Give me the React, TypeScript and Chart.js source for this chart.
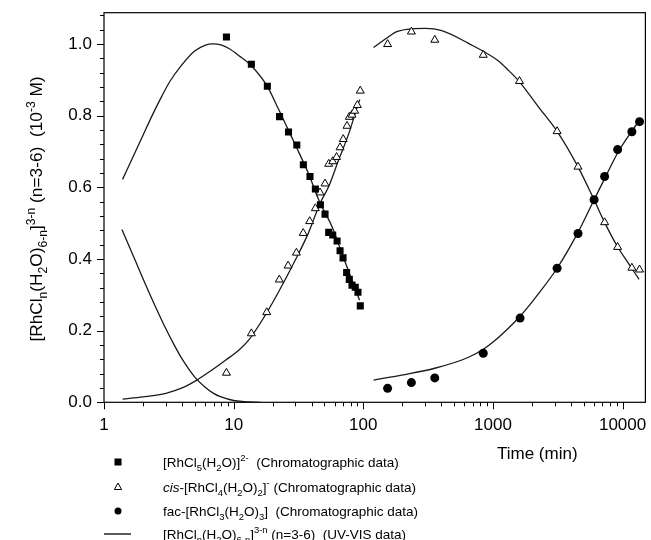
import { useEffect, useRef } from "react";
import { Chart, registerables } from "chart.js";
Chart.register(...registerables);

const FAMILY = '"Liberation Sans", Arial, Helvetica, sans-serif';

// Chromatographic data: [RhCl5(H2O)]2- (squares)
const SQ_T = [8.8, 13.7, 18.2, 22.6, 26.5, 30.7, 34.5, 38.8, 42.7, 46.7, 50.7, 54.1, 58.1, 62.8, 66.2, 69.8, 74.4, 78.0, 81.8, 86.7, 91.0, 94.8];
const SQ_Y = [1.019, 0.943, 0.882, 0.797, 0.754, 0.718, 0.663, 0.630, 0.595, 0.551, 0.525, 0.474, 0.467, 0.450, 0.423, 0.403, 0.362, 0.343, 0.327, 0.321, 0.307, 0.269];

// cis-[RhCl4(H2O)2]- (triangles), early and late runs
const TRI1_T = [8.8, 13.7, 18.0, 22.5, 26.3, 30.5, 34.4, 38.6, 42.7, 46.4, 50.7, 54.1, 58.1, 62.2, 66.2, 70.0, 74.9, 78.0, 81.8, 85.8, 90.0, 94.8];
const TRI1_Y = [0.082, 0.192, 0.251, 0.342, 0.381, 0.417, 0.472, 0.505, 0.541, 0.585, 0.610, 0.665, 0.672, 0.684, 0.711, 0.734, 0.771, 0.796, 0.802, 0.813, 0.829, 0.869];
const TRI2_T = [154, 235, 356, 842, 1603, 3126, 4532, 7270, 9160, 11800, 13520];
const TRI2_Y = [0.999, 1.034, 1.011, 0.969, 0.896, 0.756, 0.657, 0.502, 0.433, 0.375, 0.370];

// fac-[RhCl3(H2O)3] (circles)
const CIRC_T = [154, 235, 356, 842, 1620, 3126, 4532, 6030, 7270, 9160, 11800, 13520];
const CIRC_Y = [0.039, 0.055, 0.068, 0.137, 0.235, 0.374, 0.471, 0.565, 0.630, 0.705, 0.755, 0.783];

// UV-VIS curves
const C6_T = [1.375, 1.7, 2.0, 2.5, 3.0, 3.5, 4.0, 5.0, 6.0, 7.0, 8.0, 10, 12, 16];
const C6_Y = [0.482, 0.405, 0.345, 0.266, 0.205, 0.158, 0.121, 0.071, 0.043, 0.025, 0.015, 0.005, 0.002, 0.0];
const C5_T = [1.39, 1.68, 2.0, 2.33, 2.8, 3.22, 4.0, 5.0, 6.0, 6.9, 8.0, 9.2, 11, 13.5, 18, 22.3, 26, 30.2, 37.7, 45.9, 57.4, 68.4, 81.5, 93.6];
const C5_Y = [0.622, 0.686, 0.745, 0.797, 0.855, 0.895, 0.942, 0.980, 0.996, 1.0, 0.997, 0.987, 0.967, 0.941, 0.884, 0.816, 0.765, 0.715, 0.639, 0.560, 0.490, 0.416, 0.341, 0.285];
const C4A_T = [1.39, 2.0, 3.0, 4.0, 5.2, 6.5, 8.7, 11.0, 13.1, 17.6, 22.3, 29.9, 37.7, 46.5, 54.1, 64.5, 77.5, 89.4, 94];
const C4A_Y = [0.009, 0.015, 0.025, 0.040, 0.062, 0.085, 0.118, 0.146, 0.174, 0.244, 0.309, 0.397, 0.472, 0.556, 0.602, 0.676, 0.751, 0.822, 0.845];
const C4B_T = [120, 150, 181, 236, 300, 403, 643, 1097, 1303, 1603, 2234, 3126, 4532, 6030, 7220, 9140, 11000, 13400];
const C4B_Y = [0.990, 1.015, 1.034, 1.042, 1.043, 1.037, 1.002, 0.953, 0.928, 0.894, 0.825, 0.756, 0.657, 0.565, 0.504, 0.434, 0.390, 0.343];
const C3_T = [120, 197, 356, 643, 860, 1097, 1303, 1620, 2234, 3126, 4532, 6030, 7220, 9140, 11800, 13400];
const C3_Y = [0.062, 0.076, 0.095, 0.125, 0.150, 0.180, 0.205, 0.240, 0.302, 0.374, 0.474, 0.565, 0.622, 0.695, 0.757, 0.785];

const X_TICKS = [1, 10, 100, 1000, 10000];
const Y_TICKS = [0, 0.2, 0.4, 0.6, 0.8, 1.0];

type Seg = { t: string; k?: "sub" | "sup"; i?: boolean };

const Y_TITLE: Seg[] = [
  { t: "[RhCl" }, { t: "n", k: "sub" }, { t: "(H" }, { t: "2", k: "sub" }, { t: "O)" }, { t: "6-n", k: "sub" },
  { t: "]" }, { t: "3-n", k: "sup" }, { t: " (n=3-6)  (10" }, { t: "-3", k: "sup" }, { t: " M)" },
];
const LEGEND_ROWS: { marker: string; segs: Seg[] }[] = [
  { marker: "square", segs: [{ t: "[RhCl" }, { t: "5", k: "sub" }, { t: "(H" }, { t: "2", k: "sub" }, { t: "O)]" }, { t: "2-", k: "sup" }, { t: "  (Chromatographic data)" }] },
  { marker: "triangle", segs: [{ t: "cis", i: true }, { t: "-[RhCl" }, { t: "4", k: "sub" }, { t: "(H" }, { t: "2", k: "sub" }, { t: "O)" }, { t: "2", k: "sub" }, { t: "]" }, { t: "-", k: "sup" }, { t: " (Chromatographic data)" }] },
  { marker: "circle", segs: [{ t: "fac-[RhCl" }, { t: "3", k: "sub" }, { t: "(H" }, { t: "2", k: "sub" }, { t: "O)" }, { t: "3", k: "sub" }, { t: "]  (Chromatographic data)" }] },
  { marker: "line", segs: [{ t: "[RhCl" }, { t: "n", k: "sub" }, { t: "(H" }, { t: "2", k: "sub" }, { t: "O)" }, { t: "6-n", k: "sub" }, { t: "]" }, { t: "3-n", k: "sup" }, { t: " (n=3-6)  (UV-VIS data)" }] },
];
const X_TITLE = "Time (min)";

function segFont(s: Seg, size: number) {
  const sz = s.k ? size * 0.7 : size;
  return `${s.i ? "italic " : ""}${sz}px ${FAMILY}`;
}
function richWidth(ctx: CanvasRenderingContext2D, segs: Seg[], size: number) {
  let w = 0;
  for (const s of segs) { ctx.font = segFont(s, size); w += ctx.measureText(s.t).width; }
  return w;
}
function drawRich(ctx: CanvasRenderingContext2D, segs: Seg[], x: number, y: number, size: number, align: "left" | "center") {
  let cx = align === "center" ? x - richWidth(ctx, segs, size) / 2 : x;
  ctx.textAlign = "left";
  ctx.textBaseline = "alphabetic";
  for (const s of segs) {
    ctx.font = segFont(s, size);
    const dy = s.k === "sub" ? size * 0.28 : s.k === "sup" ? -size * 0.42 : 0;
    ctx.fillText(s.t, cx, y + dy);
    cx += ctx.measureText(s.t).width;
  }
}

const mk = (ts: number[], ys: number[]) => ts.map((t, i) => ({ x: t, y: ys[i] }));

const decorPlugin = {
  id: "decor",
  beforeDraw(chart: any) {
    const { ctx } = chart;
    ctx.save();
    ctx.fillStyle = "#fff";
    ctx.fillRect(0, 0, chart.width, chart.height);
    ctx.restore();
  },
  afterDraw(chart: any) {
    const { ctx, chartArea } = chart;
    const { left, right, top, bottom } = chartArea;
    const xs = chart.scales.x;
    const ys = chart.scales.y;
    ctx.save();
    ctx.strokeStyle = "#000";
    ctx.lineWidth = 1.2;
    ctx.strokeRect(left, top, right - left, bottom - top);
    ctx.lineWidth = 1;
    ctx.beginPath();
    for (let d = 1; d <= 10000; d *= 10) {
      for (let m = 1; m <= 9; m++) {
        const v = d * m;
        if (v > xs.max) break;
        const px = Math.round(xs.getPixelForValue(v)) + 0.5;
        const len = m === 1 ? 7 : 4;
        ctx.moveTo(px, bottom);
        ctx.lineTo(px, bottom + len);
      }
    }
    for (let k = 0; k * 0.04 <= ys.max + 1e-9; k++) {
      const py = Math.round(ys.getPixelForValue(k * 0.04)) + 0.5;
      const len = k % 5 === 0 ? 7 : 4;
      ctx.moveTo(left, py);
      ctx.lineTo(left - len, py);
    }
    ctx.stroke();

    ctx.fillStyle = "#000";
    // y-axis title
    ctx.save();
    ctx.translate(42, 209);
    ctx.rotate(-Math.PI / 2);
    drawRich(ctx, Y_TITLE, 0, 0, 17.3, "center");
    ctx.restore();

    // x-axis title
    ctx.font = `17px ${FAMILY}`;
    ctx.textAlign = "left";
    ctx.textBaseline = "alphabetic";
    ctx.fillText(X_TITLE, 497, 459);

    // legend
    const rowY = [467, 492, 516, 539];
    LEGEND_ROWS.forEach((row, i) => {
      const y = rowY[i];
      const my = y - 5;
      const mx = 118;
      ctx.beginPath();
      if (row.marker === "square") {
        ctx.fillRect(mx - 3.5, my - 3.5, 7, 7);
      } else if (row.marker === "triangle") {
        ctx.moveTo(mx, my - 4);
        ctx.lineTo(mx + 3.6, my + 2.5);
        ctx.lineTo(mx - 3.6, my + 2.5);
        ctx.closePath();
        ctx.stroke();
      } else if (row.marker === "circle") {
        ctx.arc(mx, my, 3.5, 0, Math.PI * 2);
        ctx.fill();
      } else {
        ctx.lineWidth = 1.3;
        ctx.moveTo(104, my);
        ctx.lineTo(131, my);
        ctx.stroke();
      }
      drawRich(ctx, row.segs, 163, y, 13.5, "left");
    });
    ctx.restore();
  },
};

export default function App() {
  const ref = useRef<HTMLCanvasElement>(null);
  useEffect(() => {
    if (!ref.current) return;
    const curve = (ts: number[], ys: number[]) => ({
      data: mk(ts, ys),
      showLine: true,
      pointRadius: 0,
      borderColor: "#1a1a1a",
      borderWidth: 1.3,
      cubicInterpolationMode: "monotone" as const,
      fill: false,
    });
    const chart = new Chart(ref.current, {
      type: "scatter",
      data: {
        datasets: [
          { label: "[RhCl5(H2O)]2-", data: mk(SQ_T, SQ_Y), pointStyle: "rect", pointRadius: 5, backgroundColor: "#000", borderColor: "#000", borderWidth: 0 },
          { label: "cis-[RhCl4(H2O)2]-", data: [...mk(TRI1_T, TRI1_Y), ...mk(TRI2_T, TRI2_Y)], pointStyle: "triangle", pointRadius: 4.6, backgroundColor: "#fff", borderColor: "#000", borderWidth: 1 },
          { label: "fac-[RhCl3(H2O)3]", data: mk(CIRC_T, CIRC_Y), pointStyle: "circle", pointRadius: 4.5, backgroundColor: "#000", borderColor: "#000", borderWidth: 0 },
          { label: "n=6", ...curve(C6_T, C6_Y) },
          { label: "n=5", ...curve(C5_T, C5_Y) },
          { label: "n=4 (early)", ...curve(C4A_T, C4A_Y) },
          { label: "n=4 (late)", ...curve(C4B_T, C4B_Y) },
          { label: "n=3", ...curve(C3_T, C3_Y) },
        ] as any,
      },
      options: {
        responsive: false,
        animation: false,
        devicePixelRatio: 1,
        layout: { padding: { top: 12.7, right: 3.3, left: 0, bottom: 0 } },
        plugins: { legend: { display: false }, tooltip: { enabled: false } },
        scales: {
          x: {
            type: "logarithmic",
            min: 1,
            max: 15000,
            afterFit: (s: any) => { s.height = 137.7; s.paddingLeft = 0; s.paddingRight = 0; },
            afterBuildTicks: (s: any) => { s.ticks = X_TICKS.map((v) => ({ value: v })); },
            grid: { display: false, drawTicks: false },
            border: { display: false },
            ticks: { color: "#000", font: { size: 17, family: FAMILY }, padding: 13, maxRotation: 0, autoSkip: false, callback: (v: any) => String(v) },
          },
          y: {
            type: "linear",
            min: 0,
            max: 1.087,
            afterFit: (s: any) => { s.width = 104; s.paddingTop = 0; s.paddingBottom = 0; },
            afterBuildTicks: (s: any) => { s.ticks = Y_TICKS.map((v) => ({ value: v })); },
            grid: { display: false, drawTicks: false },
            border: { display: false },
            ticks: { color: "#000", font: { size: 17, family: FAMILY }, padding: 12, callback: (v: any) => Number(v).toFixed(1) },
          },
        },
      },
      plugins: [decorPlugin],
    });
    return () => chart.destroy();
  }, []);
  return (
    <div style={{ position: "fixed", left: 0, top: 0, width: 651, height: 540, background: "#fff" }}>
      <canvas ref={ref} width={651} height={540} />
    </div>
  );
}
